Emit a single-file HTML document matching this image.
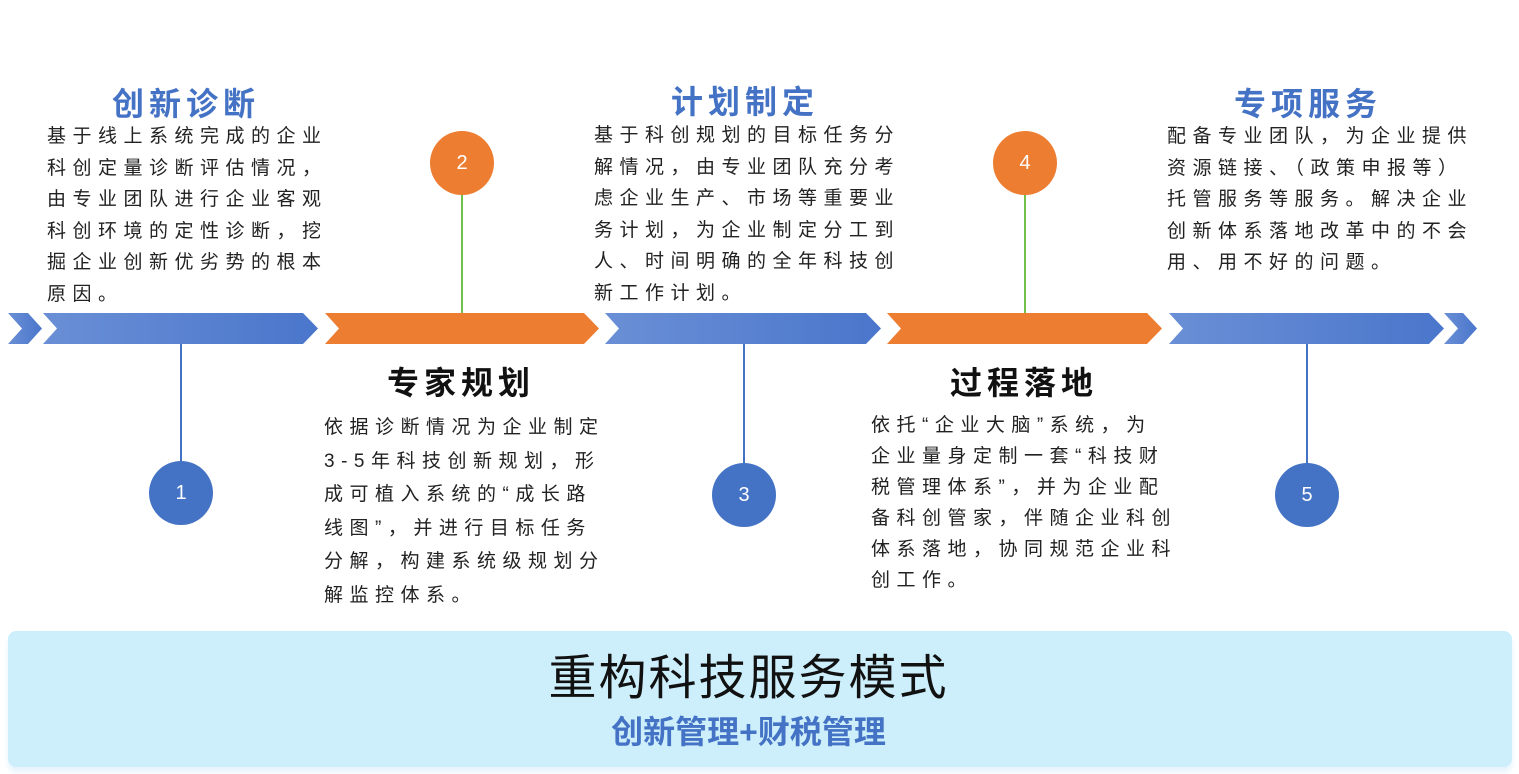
<!DOCTYPE html>
<html><head><meta charset="utf-8"><style>
body{margin:0;width:1519px;height:774px;background:#fff;position:relative;overflow:hidden;font-family:"Liberation Sans","Noto Sans CJK SC",sans-serif}
.t{position:absolute;font-size:19px;letter-spacing:6.5px;line-height:31.5px;color:#222;white-space:nowrap}
.h{position:absolute;font-size:32px;font-weight:bold;letter-spacing:5px;white-space:nowrap;transform:translateX(-50%)}
.c{position:absolute;width:64px;height:64px;border-radius:50%;color:#fff;font-size:20px;text-align:center;line-height:64px}
.l{position:absolute;width:2px}
</style></head><body>
<svg width="1519" height="774" style="position:absolute;left:0;top:0">
<defs><linearGradient id="b" x1="0" x2="1"><stop offset="0" stop-color="#6a8fd6"/><stop offset="1" stop-color="#4a76cb"/></linearGradient></defs>
<polygon points="8,313 28,313 42,328.5 28,344 8,344 22,328.5" fill="url(#b)"/>
<polygon points="43,313 303,313 318,328.5 303,344 43,344 57,328.5" fill="url(#b)"/>
<polygon points="325,313 584,313 599,328.5 584,344 325,344 339,328.5" fill="#ed7d31"/>
<polygon points="605,313 866,313 881,328.5 866,344 605,344 619,328.5" fill="url(#b)"/>
<polygon points="887,313 1147,313 1162,328.5 1147,344 887,344 901,328.5" fill="#ed7d31"/>
<polygon points="1169,313 1429,313 1444,328.5 1429,344 1169,344 1183,328.5" fill="url(#b)"/>
<polygon points="1444,313 1463,313 1477,328.5 1463,344 1444,344 1458,328.5" fill="url(#b)"/>
</svg>
<div class="l" style="left:180px;top:344px;height:120px;background:#4472c4"></div>
<div class="l" style="left:743px;top:344px;height:120px;background:#4472c4"></div>
<div class="l" style="left:1306px;top:344px;height:120px;background:#4472c4"></div>
<div class="l" style="left:461px;top:194px;height:119px;background:#70c04a"></div>
<div class="l" style="left:1024px;top:194px;height:119px;background:#70c04a"></div>
<div class="c" style="left:149px;top:461px;background:#4472c4">1</div>
<div class="c" style="left:430px;top:131px;background:#ed7d31">2</div>
<div class="c" style="left:712px;top:463px;background:#4472c4">3</div>
<div class="c" style="left:993px;top:131px;background:#ed7d31">4</div>
<div class="c" style="left:1275px;top:463px;background:#4472c4">5</div>
<div class="h" style="left:186px;top:79px;color:#4472c4">创新诊断</div>
<div class="h" style="left:745px;top:77px;color:#4472c4">计划制定</div>
<div class="h" style="left:1308px;top:79px;color:#4472c4">专项服务</div>
<div class="h" style="left:461px;top:358px;color:#111">专家规划</div>
<div class="h" style="left:1024px;top:358px;color:#111">过程落地</div>
<div class="t" style="left:47px;top:121px">基于线上系统完成的企业<br>科创定量诊断评估情况，<br>由专业团队进行企业客观<br>科创环境的定性诊断，挖<br>掘企业创新优劣势的根本<br>原因。</div>
<div class="t" style="left:594px;top:120px">基于科创规划的目标任务分<br>解情况，由专业团队充分考<br>虑企业生产、市场等重要业<br>务计划，为企业制定分工到<br>人、时间明确的全年科技创<br>新工作计划。</div>
<div class="t" style="left:1167px;top:121px">配备专业团队，为企业提供<br>资源链接、（政策申报等）<br>托管服务等服务。解决企业<br>创新体系落地改革中的不会<br>用、用不好的问题。</div>
<div class="t" style="left:324px;top:411px;line-height:33.5px">依据诊断情况为企业制定<br>3-5年科技创新规划，形<br>成可植入系统的“成长路<br>线图”，并进行目标任务<br>分解，构建系统级规划分<br>解监控体系。</div>
<div class="t" style="left:871px;top:410px;line-height:31px">依托“企业大脑”系统，为<br>企业量身定制一套“科技财<br>税管理体系”，并为企业配<br>备科创管家，伴随企业科创<br>体系落地，协同规范企业科<br>创工作。</div>
<div style="position:absolute;left:8px;top:631px;width:1504px;height:136px;background:#cdeffb;border-radius:8px;box-shadow:0 5px 6px #e6f4fc"></div>
<div style="position:absolute;left:0;width:1497px;top:638px;text-align:center;font-size:48px;color:#111;letter-spacing:2px">重构科技服务模式</div>
<div style="position:absolute;left:0;width:1497px;top:707px;text-align:center;font-size:32px;font-weight:bold;color:#4472c4">创新管理+财税管理</div>
</body></html>
